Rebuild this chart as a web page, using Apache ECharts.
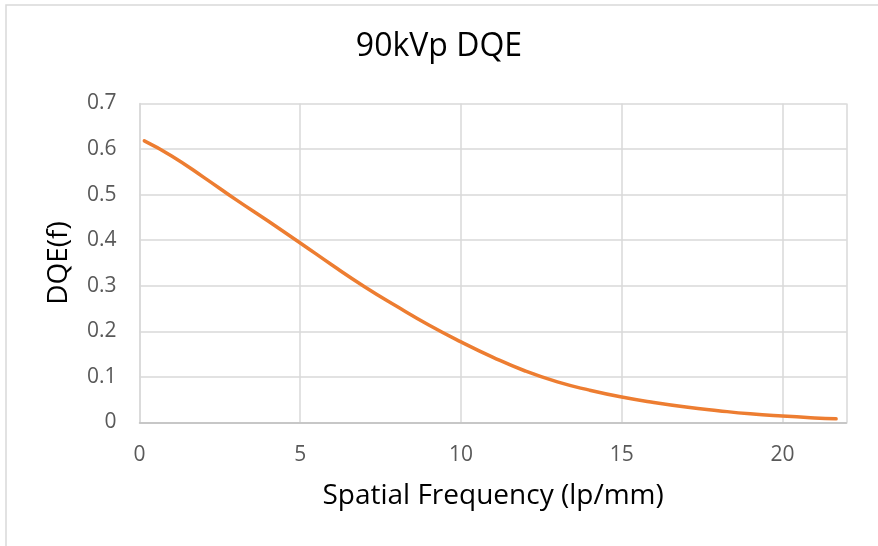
<!DOCTYPE html>
<html>
<head>
<meta charset="utf-8">
<script src="https://cdn.jsdelivr.net/npm/echarts@6/dist/echarts.min.js"></script>
<style>
html,body{margin:0;padding:0;background:#fff;}
#chart{width:878px;height:546px;}
</style>
</head>
<body>
<div id="chart"></div>
<script>
const titleText = "90kVp DQE";
const xAxisName = "Spatial Frequency (lp/mm)";
const yAxisName = "DQE(f)";
const frequency = [0.15, 1, 2, 3, 4, 5, 6, 7, 8, 9, 10, 11, 12, 13, 14, 15, 16, 17, 18, 19, 20, 21, 21.67];
const dqe = [0.618, 0.585, 0.538, 0.489, 0.442, 0.394, 0.345, 0.298, 0.255, 0.214, 0.177, 0.143, 0.113, 0.089, 0.071, 0.056, 0.044, 0.034, 0.026, 0.019, 0.014, 0.010, 0.008];

const FONT = "Open Sans";
const chart = echarts.init(document.getElementById('chart'), null, {renderer: 'canvas'});
chart.setOption({
  backgroundColor: '#ffffff',
  animation: false,
  title: {
    text: titleText,
    left: 'center',
    top: 26,
    textStyle: {fontFamily: FONT, fontSize: 32, fontWeight: 'normal', color: '#000000'}
  },
  graphic: [{
    type: 'rect',
    shape: {x: 6, y: 5, width: 900, height: 600},
    style: {fill: 'none', stroke: '#d9d9d9', lineWidth: 1.5},
    silent: true
  }],
  grid: {left: 139.5, right: 31.3, top: 103.5, bottom: 123.5, containLabel: false},
  xAxis: {
    type: 'value',
    min: 0, max: 22, interval: 5,
    name: xAxisName,
    nameLocation: 'middle',
    nameGap: 60,
    nameTextStyle: {fontFamily: FONT, fontSize: 28, color: '#000000'},
    axisLine: {show: true, lineStyle: {color: '#bfbfbf', width: 1.5}},
    axisTick: {show: false},
    axisLabel: {fontFamily: FONT, fontSize: 21, color: '#595959', margin: 22,
      showMaxLabel: false},
    splitLine: {show: true, lineStyle: {color: '#d9d9d9', width: 1.5}}
  },
  yAxis: {
    type: 'value',
    min: 0, max: 0.7, interval: 0.1,
    name: yAxisName,
    nameLocation: 'middle',
    nameGap: 66,
    nameTextStyle: {fontFamily: FONT, fontSize: 28, color: '#000000'},
    axisLine: {show: true, lineStyle: {color: '#d9d9d9', width: 1.5}},
    axisTick: {show: false},
    axisLabel: {fontFamily: FONT, fontSize: 21, color: '#595959', margin: 23,
      formatter: function (v) { return v === 0 ? '0' : v.toFixed(1); }},
    splitLine: {show: true, lineStyle: {color: '#d9d9d9', width: 1.5}}
  },
  series: [{
    type: 'line',
    data: frequency.map((f, i) => [f, dqe[i]]),
    smooth: 0.5,
    showSymbol: false,
    lineStyle: {color: '#ed7d31', width: 3.5, cap: 'round'},
    itemStyle: {color: '#ed7d31'}
  }]
});
</script>
</body>
</html>
